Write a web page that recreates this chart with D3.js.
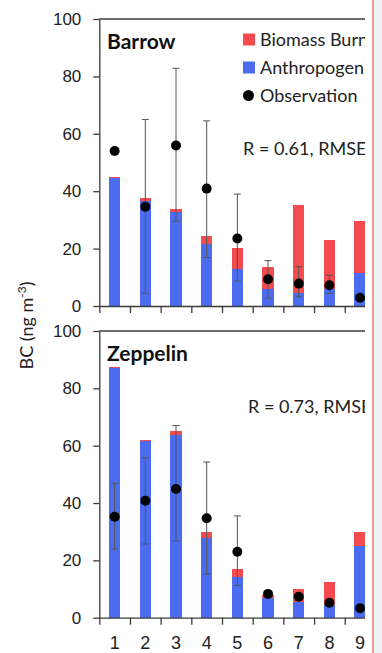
<!DOCTYPE html>
<html>
<head>
<meta charset="utf-8">
<script src="https://cdn.jsdelivr.net/npm/d3@7"></script>
<style>
  html, body { margin: 0; padding: 0; background: #fff; }
  svg { display: block; font-family: Lato, 'Open Sans', sans-serif; }
</style>
</head>
<body>
<div id="svg-container"></div>
<script>
const months = [1, 2, 3, 4, 5, 6, 7, 8, 9];
const yTicks = [0, 20, 40, 60, 80, 100];

const barrowAnthropogenic = [44.5, 36.7, 32.7, 21.5, 12.8, 5.8, 4.6, 5.8, 11.4];
const barrowBiomass = [0.5, 1.1, 1.0, 3.0, 7.3, 7.7, 30.6, 17.2, 18.2];
const barrowObservation = [54, 34.6, 55.9, 40.9, 23.5, 9.3, 7.8, 7.2, 2.9];
const barrowObsHigh = [null, 65, 82.8, 64.5, 39, 15.8, 13.7, 10.7, null];
const barrowObsLow = [null, 4.4, 29.5, 16.9, 8.7, 2.7, 3.2, 4.4, null];

const zeppelinAnthropogenic = [87.2, 61.6, 63.6, 27.7, 14.3, 7.0, 5.6, 4.4, 25];
const zeppelinBiomass = [0.3, 0.4, 1.5, 2.3, 2.6, 0.8, 4.3, 7.9, 5];
const zeppelinObservation = [35.2, 40.8, 44.9, 34.7, 23, 8.3, 7.3, 5.2, 3.3];
const zeppelinObsHigh = [46.9, 55.8, 67, 54.3, 35.5, null, null, null, null];
const zeppelinObsLow = [23.9, 25.7, 26.8, 15.2, 11.3, null, null, null, null];

const legendLabels = ['Biomass Burning', 'Anthropogenic', 'Observation'];

const WIDTH = 382;
const HEIGHT = 653;
const LEFT = 99.3;
const STEP = 30.68;
const CLIP_RIGHT = 365;
const RED = '#f44b4e';
const BLUE = '#4b6cf0';
const INK = '#222';
const AXIS = '#3a3a3a';

const panels = [
  {
    name: 'Barrow',
    top: 19,
    bottom: 306,
    anthropogenic: barrowAnthropogenic,
    biomass: barrowBiomass,
    observation: barrowObservation,
    high: barrowObsHigh,
    low: barrowObsLow,
    stats: 'R = 0.61, RMSE',
    statsX: 243,
    statsY: 52.5,
    legend: true,
    labels: false,
  },
  {
    name: 'Zeppelin',
    top: 331,
    bottom: 617.7,
    anthropogenic: zeppelinAnthropogenic,
    biomass: zeppelinBiomass,
    observation: zeppelinObservation,
    high: zeppelinObsHigh,
    low: zeppelinObsLow,
    stats: 'R = 0.73, RMSE',
    statsX: 248,
    statsY: 71.5,
    legend: false,
    labels: true,
  },
];

const xScale = d3
  .scaleBand()
  .domain(months)
  .range([LEFT, LEFT + STEP * months.length])
  .paddingInner(0.625)
  .paddingOuter(0.3125);

const xEdge = d3
  .scaleLinear()
  .domain([0, months.length])
  .range([LEFT, LEFT + STEP * months.length]);

const styleAxis = (g) => {
  g.select('.domain').attr('stroke', AXIS).attr('stroke-width', 1.3);
  g.selectAll('.tick line').attr('stroke', AXIS).attr('stroke-width', 1.3);
  g.selectAll('.tick text').attr('fill', INK).style('font-size', '17px');
};

const drawPanel = (root, panel) => {
  const yScale = d3
    .scaleLinear()
    .domain([0, 100])
    .range([panel.bottom, panel.top]);

  const rows = months.map((month, i) => ({
    month,
    anthropogenic: panel.anthropogenic[i],
    biomass: panel.biomass[i],
    observation: panel.observation[i],
    high: panel.high[i],
    low: panel.low[i],
  }));

  const stacked = d3.stack().keys(['anthropogenic', 'biomass'])(rows);
  const colors = { anthropogenic: BLUE, biomass: RED };

  const g = root.append('g');

  g.selectAll('g.layer')
    .data(stacked)
    .join('g')
    .attr('class', 'layer')
    .attr('fill', (layer) => colors[layer.key])
    .selectAll('rect')
    .data((layer) => layer)
    .join('rect')
    .attr('x', (d) => xScale(d.data.month))
    .attr('width', xScale.bandwidth())
    .attr('y', (d) => yScale(d[1]))
    .attr('height', (d) => yScale(d[0]) - yScale(d[1]))
    .attr('shape-rendering', 'crispEdges');

  const errors = rows.filter((d) => d.high !== null);
  const cx = (d) => xScale(d.month) + xScale.bandwidth() / 2;

  const bars = g
    .selectAll('g.error')
    .data(errors)
    .join('g')
    .attr('class', 'error')
    .attr('stroke', '#555')
    .attr('stroke-width', 1);
  bars
    .append('line')
    .attr('x1', cx)
    .attr('x2', cx)
    .attr('y1', (d) => yScale(d.high))
    .attr('y2', (d) => yScale(d.low));
  bars
    .append('line')
    .attr('x1', (d) => cx(d) - 3.5)
    .attr('x2', (d) => cx(d) + 3.5)
    .attr('y1', (d) => yScale(d.high))
    .attr('y2', (d) => yScale(d.high));
  bars
    .append('line')
    .attr('x1', (d) => cx(d) - 3.5)
    .attr('x2', (d) => cx(d) + 3.5)
    .attr('y1', (d) => yScale(d.low))
    .attr('y2', (d) => yScale(d.low));

  g.selectAll('circle.obs')
    .data(rows)
    .join('circle')
    .attr('class', 'obs')
    .attr('cx', cx)
    .attr('cy', (d) => yScale(d.observation))
    .attr('r', 5)
    .attr('fill', '#000');

  // frame: top line, left axis, bottom ticks
  g.append('line')
    .attr('x1', LEFT)
    .attr('x2', xEdge.range()[1])
    .attr('y1', panel.top)
    .attr('y2', panel.top)
    .attr('stroke', AXIS)
    .attr('stroke-width', 1.3);

  g.append('g')
    .attr('transform', `translate(${LEFT}, 0)`)
    .call(
      d3.axisLeft(yScale).tickValues(yTicks).tickSize(6).tickSizeOuter(0).tickPadding(12)
    )
    .call(styleAxis);

  g.append('g')
    .attr('transform', `translate(0, ${panel.bottom})`)
    .call(
      d3
        .axisBottom(xEdge)
        .tickValues(d3.range(0, months.length + 1))
        .tickSize(7)
        .tickSizeOuter(0)
        .tickFormat('')
    )
    .call(styleAxis);

  if (panel.labels) {
    g.append('g')
      .attr('transform', `translate(0, ${panel.bottom})`)
      .call(d3.axisBottom(xScale).tickSize(0).tickPadding(19))
      .call((axis) => axis.select('.domain').remove())
      .call(styleAxis)
      .selectAll('.tick text')
      .style('font-size', '18px');
  }

  g.append('text')
    .attr('x', 107)
    .attr('y', panel.top + 29.5)
    .attr('fill', '#111')
    .style('font-size', '21px')
    .style('font-weight', 700)
    .text(panel.name);

  g.append('text')
    .attr('x', panel.statsX)
    .attr('y', yScale(panel.statsY))
    .attr('fill', INK)
    .style('font-size', '18px')
    .text(panel.stats);

  if (panel.legend) {
    const legend = g
      .selectAll('g.legend')
      .data(legendLabels)
      .join('g')
      .attr('class', 'legend')
      .attr('transform', (_, i) => `translate(243, ${39.5 + i * 28})`);

    legend
      .filter((_, i) => i < 2)
      .append('rect')
      .attr('x', 0)
      .attr('y', -6)
      .attr('width', 12)
      .attr('height', 12)
      .attr('fill', (_, i) => (i === 0 ? RED : BLUE));

    legend
      .filter((_, i) => i === 2)
      .append('circle')
      .attr('cx', 5.5)
      .attr('cy', 0)
      .attr('r', 5.5)
      .attr('fill', '#000');

    legend
      .append('text')
      .attr('x', 17)
      .attr('y', 6.3)
      .attr('fill', INK)
      .style('font-size', '18px')
      .text((label) => label);
  }
};

const drawChart = () => {
  const svg = d3.create('svg').attr('width', WIDTH).attr('height', HEIGHT);

  svg
    .append('rect')
    .attr('x', 373)
    .attr('width', WIDTH - 373)
    .attr('height', HEIGHT)
    .attr('fill', '#f1f1f1');
  svg
    .append('line')
    .attr('x1', 373)
    .attr('x2', 373)
    .attr('y1', 0)
    .attr('y2', HEIGHT)
    .attr('stroke', '#e37c7c')
    .attr('stroke-width', 1.5);

  svg
    .append('clipPath')
    .attr('id', 'crop')
    .append('rect')
    .attr('width', CLIP_RIGHT)
    .attr('height', HEIGHT);

  const root = svg.append('g').attr('clip-path', 'url(#crop)');

  panels.forEach((panel) => drawPanel(root, panel));

  root
    .append('text')
    .attr('transform', 'translate(33, 325.5) rotate(-90)')
    .attr('text-anchor', 'middle')
    .attr('fill', INK)
    .style('font-size', '18px')
    .html('BC (ng m<tspan dy="-7" font-size="12">-3</tspan><tspan dy="7">)</tspan>');

  document.getElementById('svg-container').appendChild(svg.node());
};

drawChart();
</script>
</body>
</html>
